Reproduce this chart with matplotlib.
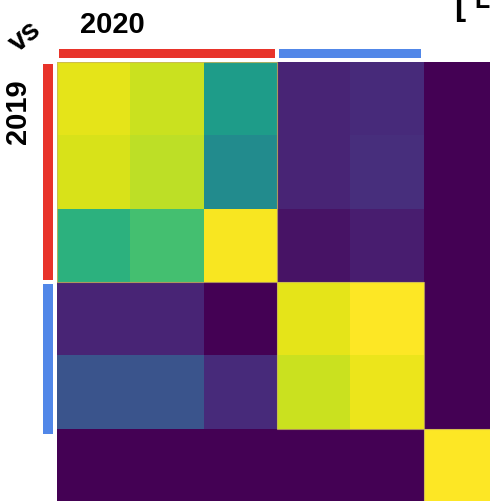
import matplotlib.pyplot as plt
import matplotlib.patches as mpatches
import numpy as np

# similarity between 2019 (rows) and 2020 (columns) groups
similarity = [
    [0.96, 0.92, 0.55, 0.10, 0.12, 0.00],
    [0.94, 0.90, 0.48, 0.10, 0.13, 0.00],
    [0.64, 0.70, 0.99, 0.05, 0.08, 0.00],
    [0.10, 0.10, 0.00, 0.96, 1.00, 0.00],
    [0.26, 0.26, 0.12, 0.92, 0.97, 0.00],
    [0.00, 0.00, 0.00, 0.00, 0.00, 1.00],
]
# group spans (start index, end index) and their colours
groups = [(0, 3), (3, 5)]
group_colors = ['#e8332a', '#5187e8']
blocks = [(0, 3), (3, 5), (5, 6)]

fig = plt.figure(figsize=(4.9, 5.01), dpi=100)
plt.rcParams['font.family'] = ['Liberation Sans', 'DejaVu Sans']

# heatmap runs off the right and bottom edges
ax = fig.add_axes([57 / 490, 1 - 502 / 501, 440 / 490, 440 / 501])
data = np.array(similarity)
ax.pcolormesh(np.arange(7), np.arange(7), data, cmap='viridis', vmin=0, vmax=1)
ax.set_xlim(0, 6)
ax.set_ylim(6, 0)
ax.axis('off')

# faint outlines round the diagonal blocks
for a, b in blocks:
    ax.add_patch(mpatches.Rectangle((a, a), b - a, b - a, fill=False,
                                    edgecolor='#c9b45a', lw=0.8, alpha=0.8))

# coloured group bars along the top and left
for (a, b), c in zip(groups, group_colors):
    ax.add_patch(mpatches.Rectangle((a + 0.03, -0.18), b - a - 0.06, 0.13,
                                    color=c, clip_on=False, lw=0))
    ax.add_patch(mpatches.Rectangle((-0.19, a + 0.03), 0.13, b - a - 0.06 + 0.1 * (b == 5),
                                    color=c, clip_on=False, lw=0))

fig.text(112 / 490, 1 - 25 / 501, '2020', fontsize=21, fontweight='bold',
         ha='center', va='center')
fig.text(18 / 490, 1 - 112 / 501, '2019', fontsize=21, fontweight='bold',
         ha='center', va='center', rotation=90)
fig.text(25 / 490, 1 - 36 / 501, 'vs', fontsize=21, fontweight='bold',
         ha='center', va='center', rotation=40)
fig.text(454 / 490, 1 - 15 / 501, '[', fontsize=24, fontweight='bold',
         ha='left', va='baseline')
fig.text(474 / 490, 1 - 8 / 501, 'L', fontsize=18, fontweight='bold',
         ha='left', va='baseline')

fig.savefig('out.png', dpi=100)
